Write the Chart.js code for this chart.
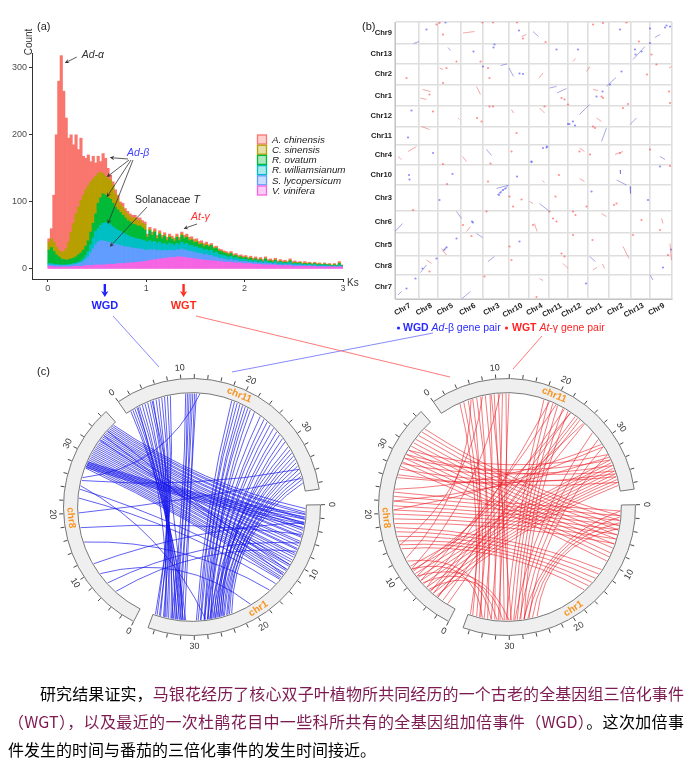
<!DOCTYPE html>
<html><head><meta charset="utf-8">
<script src="https://cdn.jsdelivr.net/npm/chart.js@4.4.1/dist/chart.umd.min.js"></script>
<style>
html,body{margin:0;padding:0;background:#fff;}
body{width:694px;height:774px;position:relative;overflow:hidden;}
canvas{position:absolute;display:block;}
#cA{left:0;top:0;} #cB{left:360px;top:0;} #cL{left:42px;top:357px;} #cR{left:357px;top:357px;}
#ov{position:absolute;left:0;top:0;pointer-events:none;}
#lblc{position:absolute;left:37px;top:365px;font:11px "Liberation Sans",Arial,sans-serif;color:#222;}
#txt{position:absolute;left:8px;top:679px;width:676px;font-family:"Noto Sans CJK SC",sans-serif;font-size:16px;line-height:28px;color:#000;}
#txt div{white-space:nowrap;}
#txt .j{text-align:justify;text-align-last:justify;}
#txt .ind{text-indent:32px;}
.p{color:#7d1a52;}
</style></head>
<body>
<canvas id="cA" width="360" height="320"></canvas>
<canvas id="cB" width="334" height="345"></canvas>
<canvas id="cL" width="300" height="300"></canvas>
<canvas id="cR" width="300" height="300"></canvas>
<svg id="ov" width="694" height="774">
  <line x1="113" y1="316" x2="159" y2="367" stroke="#7b7bff" stroke-width="0.9"/>
  <line x1="232" y1="372" x2="433" y2="333" stroke="#7b7bff" stroke-width="0.9"/>
  <line x1="196" y1="316" x2="450" y2="377" stroke="#ff6a6a" stroke-width="0.9"/>
  <line x1="542" y1="336" x2="513" y2="369" stroke="#ff6a6a" stroke-width="0.9"/>
</svg>
<div id="lblc">(c)</div>
<div id="txt">
  <div class="j ind">研究结果证实，<span class="p">马银花经历了核心双子叶植物所共同经历的一个古老的全基因组三倍化事件</span></div>
  <div class="j"><span class="p">（WGT），以及最近的一次杜鹃花目中一些科所共有的全基因组加倍事件（WGD）</span>。这次加倍事</div>
  <div>件发生的时间与番茄的三倍化事件的发生时间接近。</div>
</div>
<script>
// ================= DATA: panel (a) Ks distribution (bin width 0.025) =================
const ksBinCenters = Array.from({length:120}, (_, i) => +(0.0125 + 0.025 * i).toFixed(4));
const ksTicks = [0, 1, 2, 3];
const countTicks = [0, 100, 200, 300];
const speciesNames = ['V. vinifera','S. lycopersicum','R. williamsianum','R. ovatum','C. sinensis','A. chinensis'];
const speciesColors = ['#F564E3','#619CFF','#00BFC4','#00BA38','#B79F00','#F8766D'];
const vinifera = [4,4,3,3,3,3,3,3,3,3, 4,4,4,4,4,5,5,5,5,6, 6,6,6,6,7,7,7,7,8,8, 8,8,9,9,9,10,10,10,11,11,
  12,13,13,14,14,15,15,16,16,17, 17,17,18,18,18,17,17,16,16,15, 15,14,14,13,13,13,12,12,12,11, 11,10,10,10,10,9,9,9,9,8,
  8,8,8,7,7,7,7,6,6,6, 6,6,6,5,5,5,5,5,5,4, 4,4,4,4,4,4,4,3,4,3, 3,3,3,3,3,3,3,3,3,3];
const lycopersicum = [2,2,2,2,2,2,2,2,2,3, 2,3,4,5,7,9,13,19,25,30, 34,36,36,35,33,32,31,30,28,27, 26,25,24,23,22,21,20,20,18,17,
  16,16,15,15,13,13,12,12,11,11, 11,10,11,10,12,11,11,10,10,10, 9,9,9,8,9,7,8,6,6,5, 5,5,4,3,4,3,4,2,2,3,
  3,2,2,2,3,1,2,2,3,2, 2,1,2,1,2,1,2,1,2,1, 2,1,2,1,1,1,1,1,1,1, 1,1,1,1,1,0,1,0,1,0];
const williamsianum = [2,2,2,2,1,1,1,1,2,1, 2,2,2,3,4,6,8,12,16,20, 20,23,26,28,28,27,25,23,22,21, 20,19,17,16,16,15,15,14,14,14,
  12,13,12,12,11,12,10,10,9,10, 9,8,9,8,10,9,10,9,9,8, 9,8,8,7,7,7,8,6,7,6, 5,5,5,4,5,4,4,4,4,3,
  3,2,3,2,3,2,3,2,3,2, 2,2,3,2,3,2,2,2,3,2, 2,2,2,1,2,1,2,1,2,1, 2,1,2,1,1,1,1,1,2,1];
const ovatum = [20,24,19,14,12,9,8,7,7,8, 8,9,11,12,13,14,16,19,22,26, 38,41,44,41,38,38,35,32,30,28, 26,24,22,22,20,20,19,20,18,16,
  7,15,10,14,7,12,8,11,6,9, 7,6,9,6,10,8,9,7,8,6, 7,5,6,5,6,6,7,6,6,5, 5,4,4,4,4,3,3,2,3,2,
  3,2,3,2,2,2,2,1,3,1, 2,1,2,1,1,1,1,1,2,1, 1,1,1,1,1,1,1,1,1,1, 1,1,1,1,1,1,1,1,2,1];
const sinensis = [12,13,14,12,10,11,11,17,26,40, 52,64,71,78,82,84,82,75,66,56, 44,38,30,28,29,28,27,20,16,12, 12,10,10,8,9,10,8,8,7,8,
  2,2,2,2,2,2,2,2,2,2, 2,2,2,2,2,2,2,2,2,2, 2,2,2,2,2,1,1,1,1,1, 1,1,1,1,1,1,1,1,1,1,
  1,1,1,1,1,1,1,1,1,1, 1,1,1,1,1,1,1,1,1,1, 1,1,1,1,1,1,1,1,1,1, 1,0,1,0,1,0,1,0,1,0];
const chinensis = [5,15,70,167,252,292,240,195,155,145, 117,118,86,93,58,47,46,30,34,20, 26,16,30,27,15,8,5,6,6,4, 6,4,4,4,4,4,4,4,4,4,
  3,3,3,3,3,3,3,3,3,3, 3,3,3,3,3,3,3,3,3,3, 3,3,3,3,3,2,2,2,2,2, 2,2,2,2,2,2,2,2,2,2,
  2,2,2,2,2,2,2,2,2,2, 2,2,2,2,2,2,2,1,2,2, 2,1,1,1,2,1,1,1,1,1, 1,1,1,1,1,1,1,1,2,1];
const speciesSeries = [vinifera, lycopersicum, williamsianum, ovatum, sinensis, chinensis];

// ================= DATA: panel (b) dot plot (positions in Mb on concatenated genome) =================
const dotChroms = ['Chr7','Chr8','Chr5','Chr6','Chr3','Chr10','Chr4','Chr11','Chr12','Chr1','Chr2','Chr13','Chr9'];
const dotChromLen = [48,38,46,44,52,40,40,37,41,42,43,39,44];
const wgdBlocks = [[37,511,48,515],[106,503,111,497],[211,467,224,470],[228,462,237,445],[276,535,287,525],[309,422,323,425],
  [324,412,343,421],[470,349,483,362],[413,315,423,342],[530,285,540,279],[183,299,193,287],[369,369,389,389],[423,425,442,443],
  [476,479,500,505],[520,523,530,529],[51,53,63,68],[96,95,104,105],[0,135,15,151],[123,175,133,161],[163,131,175,123],
  [133,0,151,15],[203,221,228,228],[204,208,226,226],[289,191,309,175],[389,85,401,75],[443,238,463,228],[510,48,516,38],
  [450,258,451,250],[470,225,471,211],[6,8,13,15],[186,75,199,85]];
const wgdDots = [[63,539],[101,553],[157,495],[176,465],[199,509],[197,503],[249,451],[256,450],[248,537],[323,499],[366,499],
  [273,274],[303,303],[346,350],[356,355],[403,405],[415,415],[430,429],[453,455],[481,489],[493,495],[510,512],[540,543],
  [543,547],[550,545],[450,539],[510,541],[76,292],[26,323],[33,377],[296,302],[304,305],[349,350],[360,347],[480,499],
  [23,21],[41,41],[55,61],[83,81],[123,121],[89,198],[115,250],[154,155],[156,153],[208,208],[211,213],[216,218],[221,221],
  [244,245],[249,115],[273,275],[382,31],[506,198],[536,63],[552,99],[530,265],[28,248],[29,239],[99,99],[103,103],[393,215]];
const wgtBlocks = [[26,295,43,305],[53,345,69,339],[51,402,63,399],[55,419,71,415],[89,462,96,459],[136,532,159,535],
  [163,425,171,409],[253,525,263,529],[288,442,296,452],[289,382,299,372],[356,475,361,481],[369,302,379,295],[383,455,390,465],
  [396,419,406,417],[403,362,413,355],[440,289,456,295],[548,462,553,465],[6,285,13,279],[135,285,143,275],[233,379,237,372],
  [126,362,129,359],[279,151,284,135],[336,71,346,61],[396,58,404,63],[415,70,419,61],[413,171,423,165],[456,105,468,81],
  [550,111,553,78],[143,135,151,145],[93,101,103,88],[63,78,73,71],[289,41,296,37],[369,241,379,235],[533,161,536,151],
  [295,237,299,233],[269,195,276,191]];
const wgtDots = [[83,549],[89,552],[103,462],[96,432],[123,475],[164,362],[173,355],[175,553],[196,553],[171,475],[186,462],
  [189,442],[189,385],[196,385],[233,295],[243,332],[244,553],[256,521],[301,514],[299,385],[333,402],[339,399],[346,389],
  [396,549],[416,552],[413,405],[416,402],[396,345],[450,292],[456,382],[466,390],[463,553],[488,515],[513,489],[523,469],
  [504,449],[548,415],[550,392],[23,442],[69,409],[76,375],[510,299],[96,529],[400,342],[390,289],[369,295],
  [36,178],[104,230],[96,270],[186,235],[191,271],[236,185],[253,199],[309,175],[316,161],[323,155],[321,205],[356,175],
  [361,168],[383,185],[276,148],[229,105],[179,45],[233,78],[283,4],[333,91],[339,85],[356,128],[395,118],[443,191],
  [476,128],[493,158],[530,138],[546,88],[136,148],[69,55],[328,248],[183,175],[229,205],[438,188],[550,266],[153,126]];

// ================= DATA: panel (c) circos (positions in Mb) =================
const circosChroms = ['chr11','chr1','chr8'];
const circosLen = [39, 37, 37];
const circosGap = 2.333;
const circosTickLabels = [0, 10, 20, 30];
const wgdLinks = [
  ['chr8',36.4,'chr1',0.6],['chr8',36.1,'chr1',1.2],['chr8',35.8,'chr1',1.5],['chr8',35.5,'chr1',2.2],['chr8',35.2,'chr1',2.4],
  ['chr8',34.9,'chr1',3.1],['chr8',34.6,'chr1',3.3],['chr8',34.3,'chr1',4.0],['chr8',34.0,'chr1',4.3],['chr8',33.7,'chr1',4.8],
  ['chr8',33.4,'chr1',5.3],['chr8',33.1,'chr1',5.5],['chr8',32.8,'chr1',6.2],['chr8',32.5,'chr1',6.5],['chr8',32.2,'chr1',7.0],
  ['chr8',31.9,'chr1',7.5],['chr8',31.6,'chr1',7.7],['chr8',31.3,'chr1',8.4],['chr8',31.0,'chr1',8.7],['chr8',30.7,'chr1',9.1],
  ['chr8',30.4,'chr1',9.6],['chr8',30.1,'chr1',10.0],['chr8',29.8,'chr1',10.5],['chr8',29.5,'chr1',10.8],['chr8',29.2,'chr1',11.4],
  ['chr8',28.9,'chr1',11.7],['chr8',28.6,'chr1',12.2],['chr8',28.3,'chr1',12.6],['chr8',28.0,'chr1',13.0],['chr8',27.7,'chr1',13.3],
  ['chr8',28.8,'chr1',1.6],['chr8',28.6,'chr1',2.0],['chr8',28.4,'chr1',2.4],['chr8',28.2,'chr1',2.9],['chr8',28.0,'chr1',3.3],
  ['chr8',27.8,'chr1',3.8],['chr8',35.0,'chr1',11.5],['chr8',34.0,'chr1',12.5],['chr8',33.0,'chr1',10.5],
  ['chr11',0.8,'chr1',31.4],['chr11',1.2,'chr1',32.2],['chr11',1.6,'chr1',31.8],['chr11',2.0,'chr1',32.9],['chr11',2.5,'chr1',32.5],
  ['chr11',3.0,'chr1',33.6],['chr11',3.5,'chr1',33.2],['chr11',4.0,'chr1',34.3],['chr11',4.5,'chr1',33.9],['chr11',5.0,'chr1',35.0],
  ['chr11',5.5,'chr1',34.6],['chr11',6.0,'chr1',35.7],['chr11',6.5,'chr1',35.2],['chr11',7.0,'chr1',36.3],['chr11',7.5,'chr1',35.9],
  ['chr11',8.0,'chr1',36.6],['chr11',2.2,'chr1',34.8],['chr11',4.8,'chr1',31.9],
  ['chr11',10.6,'chr1',33.8],['chr11',10.9,'chr1',33.1],['chr11',11.2,'chr1',33.5],['chr11',11.5,'chr1',32.4],['chr11',11.8,'chr1',32.8],
  ['chr11',12.1,'chr1',31.6],['chr11',12.4,'chr1',32.1],
  ['chr11',18.5,'chr1',29.6],['chr11',19.0,'chr1',28.9],['chr11',19.5,'chr1',29.3],['chr11',20.0,'chr1',28.3],['chr11',20.5,'chr1',28.8],
  ['chr11',21.0,'chr1',27.7],['chr11',21.5,'chr1',28.2],['chr11',22.0,'chr1',27.1],['chr11',22.8,'chr1',27.6],
  ['chr11',24.0,'chr1',28.2],['chr11',24.8,'chr1',27.3],['chr11',25.5,'chr1',27.7],['chr11',26.2,'chr1',26.6],['chr11',27.0,'chr1',27.0],
  ['chr11',27.8,'chr1',25.9],['chr11',28.5,'chr1',26.3],['chr11',29.3,'chr1',25.2],['chr11',30.0,'chr1',25.6],
  ['chr11',31.0,'chr1',27.3],['chr11',31.6,'chr1',26.4],['chr11',32.2,'chr1',26.8],['chr11',32.8,'chr1',25.7],['chr11',33.4,'chr1',26.1],
  ['chr11',34.0,'chr1',25.0],['chr11',34.6,'chr1',25.4],['chr11',35.2,'chr1',24.4],['chr11',35.8,'chr1',24.8],['chr11',36.4,'chr1',23.9],
  ['chr11',37.0,'chr1',24.2],['chr11',37.6,'chr1',23.5],
  ['chr8',25.5,'chr11',35.2],['chr8',20.0,'chr11',36.8],['chr8',17.5,'chr1',5.0],['chr8',11.0,'chr1',3.0],['chr8',7.0,'chr1',6.5],
  ['chr8',5.0,'chr1',8.0],['chr8',24.0,'chr1',13.5],['chr8',22.5,'chr1',14.5],['chr8',24.6,'chr1',28.0],['chr8',15.0,'chr1',16.0],
  ['chr8',9.0,'chr1',20.0],['chr8',26.0,'chr11',13.0]];
const wgtLinks = [
  ['chr11',3.5,'chr1',36.2],['chr11',4.2,'chr1',35.5],['chr11',5.0,'chr1',34.8],['chr11',5.8,'chr1',36.6],['chr11',6.5,'chr1',33.6],
  ['chr11',7.2,'chr1',35.0],['chr11',8.0,'chr1',32.4],['chr11',8.8,'chr1',34.2],['chr11',9.5,'chr1',31.5],['chr11',10.2,'chr1',30.8],
  ['chr11',10.9,'chr1',33.0],['chr11',11.5,'chr1',30.2],['chr11',12.0,'chr1',31.8],['chr11',9.0,'chr1',29.6],
  ['chr11',18.0,'chr1',30.5],['chr11',18.8,'chr1',29.8],['chr11',19.6,'chr1',29.2],['chr11',20.5,'chr1',28.6],['chr11',21.5,'chr1',28.0],
  ['chr11',22.5,'chr1',27.4],
  ['chr11',19.0,'chr8',6.0],['chr11',20.2,'chr8',7.5],['chr11',21.8,'chr8',5.0],['chr11',23.0,'chr8',8.5],['chr11',24.5,'chr8',3.5],
  ['chr11',25.8,'chr8',9.5],
  ['chr11',33.5,'chr8',10.5],['chr11',34.0,'chr8',9.8],['chr11',34.5,'chr8',9.0],['chr11',35.0,'chr8',8.2],['chr11',35.5,'chr8',7.5],
  ['chr11',36.0,'chr8',6.8],['chr11',36.5,'chr8',6.0],['chr11',37.0,'chr8',5.2],['chr11',37.5,'chr8',4.5],['chr11',38.0,'chr8',3.8],
  ['chr11',32.5,'chr8',31.0],['chr11',33.5,'chr8',29.5],['chr11',34.5,'chr8',28.5],['chr11',35.5,'chr8',30.2],['chr11',36.5,'chr8',27.5],
  ['chr11',37.5,'chr8',26.5],
  ['chr8',35.5,'chr1',1.8],['chr8',34.8,'chr1',2.6],['chr8',34.0,'chr1',3.5],['chr8',33.2,'chr1',4.2],['chr8',32.5,'chr1',5.1],
  ['chr8',31.8,'chr1',5.8],['chr8',31.0,'chr1',6.7],['chr8',30.2,'chr1',7.4],['chr8',29.5,'chr1',8.3],['chr8',28.8,'chr1',9.0],
  ['chr8',28.0,'chr1',9.8],
  ['chr8',23.5,'chr1',1.0],['chr8',22.8,'chr1',1.8],['chr8',22.0,'chr1',2.6],['chr8',21.2,'chr1',3.4],['chr8',20.5,'chr1',4.2],
  ['chr8',19.8,'chr1',5.0],['chr8',19.0,'chr1',5.8],['chr8',18.2,'chr1',6.6],
  ['chr8',17.5,'chr1',11.5],['chr8',16.8,'chr1',12.4],['chr8',16.0,'chr1',13.3],['chr8',15.2,'chr1',14.2],['chr8',14.5,'chr1',15.0],
  ['chr8',13.8,'chr1',16.0],
  ['chr1',1.0,'chr1',27.5],['chr1',2.0,'chr1',26.8],['chr1',3.0,'chr1',26.0],['chr1',4.0,'chr1',25.2],
  ['chr11',28.0,'chr1',29.0],['chr11',29.5,'chr1',28.2],['chr11',31.0,'chr1',27.4],['chr11',32.5,'chr1',26.6],
  ['chr8',5.5,'chr1',31.0],['chr8',7.0,'chr1',33.0],['chr8',8.5,'chr1',30.0],['chr8',10.0,'chr1',34.5],['chr8',11.5,'chr1',32.0],
  ['chr8',20.5,'chr11',31.0],['chr8',22.0,'chr11',33.0],['chr8',24.0,'chr11',30.5],['chr8',26.0,'chr11',36.0],
  ['chr11',5.5,'chr8',12.0],['chr11',7.5,'chr8',14.5],['chr11',10.5,'chr8',10.0],
  ['chr8',1.5,'chr11',26.0],['chr8',2.5,'chr11',25.0],['chr8',3.5,'chr11',24.0],['chr8',4.5,'chr11',23.0]];

// ================= helpers =================
const FONT = '"Liberation Sans", Arial, sans-serif';
function arrow(ctx, x1, y1, x2, y2, color, lw, hl, spread) {
  ctx.save(); ctx.strokeStyle = color; ctx.fillStyle = color; ctx.lineWidth = lw;
  const a = Math.atan2(y2 - y1, x2 - x1);
  ctx.beginPath(); ctx.moveTo(x1, y1); ctx.lineTo(x2 - Math.cos(a) * hl * 0.6, y2 - Math.sin(a) * hl * 0.6); ctx.stroke();
  ctx.beginPath(); ctx.moveTo(x2, y2);
  ctx.lineTo(x2 - hl * Math.cos(a - spread), y2 - hl * Math.sin(a - spread));
  ctx.lineTo(x2 - hl * 0.6 * Math.cos(a), y2 - hl * 0.6 * Math.sin(a));
  ctx.lineTo(x2 - hl * Math.cos(a + spread), y2 - hl * Math.sin(a + spread));
  ctx.closePath(); ctx.fill(); ctx.restore();
}
function runs(ctx, x, y, parts) {
  parts.forEach(([t, f, c]) => { ctx.font = f; ctx.fillStyle = c; ctx.fillText(t, x, y); x += ctx.measureText(t).width; });
  return x;
}
const cumStart = []; dotChromLen.reduce((s, v, i) => { cumStart[i] = s; return s + v; }, 0);
const genomeTotal = dotChromLen.reduce((a, b) => a + b, 0);
const boundaries = cumStart.concat([genomeTotal]);

// ================= panel (a) =================
const aPlugin = {
  id: 'aAnn',
  afterDraw(chart) {
    const { ctx, scales: { x, y } } = chart;
    const P = (k, c) => [x.getPixelForValue(k), y.getPixelForValue(c)];
    ctx.save();
    ctx.textBaseline = 'middle';
    ctx.fillStyle = '#222'; ctx.font = '11px ' + FONT; ctx.textAlign = 'left';
    ctx.fillText('(a)', 37, 27);
    ctx.save(); ctx.translate(29, 42); ctx.rotate(-Math.PI / 2); ctx.textAlign = 'center';
    ctx.font = '10px ' + FONT; ctx.fillStyle = '#333'; ctx.fillText('Count', 0, 0); ctx.restore();
    ctx.font = '10px ' + FONT; ctx.fillStyle = '#333'; ctx.fillText('Ks', 347, 283);
    const ac = '#333';
    let t = P(0.173, 307); arrow(ctx, t[0] + 12, t[1] - 6, t[0], t[1], ac, 0.8, 5, 0.45);
    ctx.font = 'italic 10.5px ' + FONT; ctx.fillStyle = '#333'; ctx.fillText('Ad-α', t[0] + 17, t[1] - 8);
    const bt = [[0.63, 166, 128, 159], [0.60, 137, 129, 160], [0.60, 107, 131, 160], [0.61, 67, 133, 160]];
    bt.forEach(([k, c, tx, ty]) => { const p = P(k, c); arrow(ctx, tx, ty, p[0], p[1], ac, 0.8, 5, 0.45); });
    ctx.fillStyle = '#4040ff'; ctx.fillText('Ad-β', 127, 153);
    t = P(0.63, 33); arrow(ctx, 147, 207, t[0], t[1], ac, 0.8, 5, 0.45);
    runs(ctx, 135, 200, [['Solanaceae ', '10.5px ' + FONT, '#222'], ['T', 'italic 10.5px ' + FONT, '#222']]);
    t = P(1.38, 60); arrow(ctx, 197, 224, t[0], t[1], ac, 0.8, 5, 0.45);
    ctx.font = 'italic 10.5px ' + FONT; ctx.fillStyle = '#ff3030'; ctx.fillText('At-γ', 191, 217);
    for (let i = 0; i < 6; i++) {
      const di = 5 - i; const yy = 135 + i * 10.2;
      const ds = chart.data.datasets[di];
      ctx.fillStyle = ds.backgroundColor + '55'; ctx.fillRect(257.5, yy, 9, 9);
      ctx.strokeStyle = ds.backgroundColor; ctx.lineWidth = 1.3; ctx.strokeRect(257.5, yy, 9, 9);
      ctx.font = 'italic 9.8px ' + FONT; ctx.fillStyle = '#222'; ctx.fillText(ds.label, 272, yy + 5);
    }
    const marks = [[0.58, 'WGD', '#1f1fff'], [1.38, 'WGT', '#ff2a1a']];
    marks.forEach(([k, lab, col]) => {
      const px = x.getPixelForValue(k);
      arrow(ctx, px, 284, px, 297, col, 2.4, 7, 0.55);
      ctx.font = 'bold 11px ' + FONT; ctx.fillStyle = col; ctx.textAlign = 'center'; ctx.fillText(lab, px, 306);
      ctx.textAlign = 'left';
    });
    ctx.restore();
  }
};
new Chart(document.getElementById('cA'), {
  type: 'bar',
  data: {
    datasets: speciesNames.map((name, i) => ({
      label: name,
      data: speciesSeries[i].map((v, k) => ({ x: ksBinCenters[k], y: v })),
      backgroundColor: speciesColors[i],
      borderWidth: 0, barPercentage: 1, categoryPercentage: 1
    }))
  },
  options: {
    responsive: false, animation: false, events: [],
    layout: { padding: { left: 0, top: 53, right: 17, bottom: 19 } },
    plugins: { legend: { display: false }, tooltip: { enabled: false } },
    scales: {
      x: {
        type: 'linear', stacked: true, min: -0.16, max: 3, offset: false,
        afterBuildTicks: s => { s.ticks = ksTicks.map(v => ({ value: v })); },
        afterFit: s => { s.height = 22; },
        grid: { display: true, drawOnChartArea: false, offset: false, tickLength: 3, color: '#333' },
        border: { display: true, color: '#333', width: 1 },
        ticks: { font: { size: 9, family: 'Liberation Sans' }, color: '#4d4d4d', padding: 1, maxRotation: 0, callback: v => String(v) }
      },
      y: {
        stacked: true, min: -15, max: 322,
        afterBuildTicks: s => { s.ticks = countTicks.map(v => ({ value: v })); },
        afterFit: s => { s.width = 32; },
        grid: { display: true, drawOnChartArea: false, tickLength: 3, color: '#333' },
        border: { display: true, color: '#333', width: 1 },
        ticks: { font: { size: 9, family: 'Liberation Sans' }, color: '#4d4d4d', padding: 2, callback: v => String(v) }
      }
    }
  },
  plugins: [aPlugin]
});

// ================= panel (b) =================
const bPlugin = {
  id: 'bAnn',
  afterDraw(chart) {
    const { ctx, scales: { x, y } } = chart;
    ctx.save();
    ctx.textBaseline = 'middle';
    ctx.font = '11px ' + FONT; ctx.fillStyle = '#222'; ctx.textAlign = 'left'; ctx.fillText('(b)', 2, 27);
    ctx.font = 'bold 7.6px ' + FONT; ctx.fillStyle = '#222';
    dotChroms.forEach((c, i) => {
      const mid = cumStart[i] + dotChromLen[i] / 2;
      ctx.textAlign = 'right'; ctx.fillText(c, x.left - 3, y.getPixelForValue(mid));
      ctx.save(); ctx.translate(x.getPixelForValue(mid) + 3, y.bottom + 6); ctx.rotate(-0.52);
      ctx.fillText(c, 0, 0); ctx.restore();
    });
    ctx.textAlign = 'left';
    const blue = '#2a2aff', red = '#ff2424';
    ctx.fillStyle = blue; ctx.beginPath(); ctx.arc(38.5, 328, 1.6, 0, Math.PI * 2); ctx.fill();
    runs(ctx, 43, 328, [['WGD ', 'bold 10.5px ' + FONT, blue], ['Ad', 'italic 10.5px ' + FONT, blue], ['-β gene pair', '10.5px ' + FONT, blue]]);
    ctx.fillStyle = red; ctx.beginPath(); ctx.arc(146.5, 328, 1.6, 0, Math.PI * 2); ctx.fill();
    runs(ctx, 152, 328, [['WGT ', 'bold 10.5px ' + FONT, red], ['At', 'italic 10.5px ' + FONT, red], ['-γ gene pair', '10.5px ' + FONT, red]]);
    ctx.restore();
  }
};
const segSets = [];
wgdBlocks.forEach(s => segSets.push({ data: [{ x: s[0], y: s[1] }, { x: s[2], y: s[3] }], showLine: true, pointRadius: 0, borderWidth: 1.0, borderColor: 'rgba(110,110,215,0.6)' }));
wgtBlocks.forEach(s => segSets.push({ data: [{ x: s[0], y: s[1] }, { x: s[2], y: s[3] }], showLine: true, pointRadius: 0, borderWidth: 1.0, borderColor: 'rgba(235,110,110,0.6)' }));
new Chart(document.getElementById('cB'), {
  type: 'scatter',
  data: {
    datasets: segSets.concat([
      { data: wgdDots.map(([a, b]) => ({ x: a, y: b })), pointRadius: 1.1, borderWidth: 0, backgroundColor: 'rgba(70,70,255,0.6)' },
      { data: wgtDots.map(([a, b]) => ({ x: a, y: b })), pointRadius: 1.1, borderWidth: 0, backgroundColor: 'rgba(255,70,70,0.6)' }
    ])
  },
  options: {
    responsive: false, animation: false, events: [],
    layout: { padding: { left: 35, top: 22, right: 22, bottom: 46 } },
    plugins: { legend: { display: false }, tooltip: { enabled: false } },
    scales: {
      x: {
        type: 'linear', min: 0, max: genomeTotal,
        afterBuildTicks: s => { s.ticks = boundaries.map(v => ({ value: v })); },
        afterFit: s => { s.height = 0; },
        ticks: { display: false }, grid: { color: '#dedede', lineWidth: 1.6, drawTicks: false },
        border: { display: true, color: '#c4c4c4', width: 1 }
      },
      y: {
        type: 'linear', min: 0, max: genomeTotal,
        afterBuildTicks: s => { s.ticks = boundaries.map(v => ({ value: v })); },
        afterFit: s => { s.width = 0; },
        ticks: { display: false }, grid: { color: '#dedede', lineWidth: 1.6, drawTicks: false },
        border: { display: true, color: '#c4c4c4', width: 1 }
      }
    }
  },
  plugins: [bPlugin]
});

// ================= panel (c) circos =================
function tangentText(ctx, text, cx, cy, r, a, font, color) {
  const px = cx + r * Math.cos(a), py = cy + r * Math.sin(a);
  let th = a + Math.PI / 2; th = ((th % (2 * Math.PI)) + 2 * Math.PI) % (2 * Math.PI);
  if (th > Math.PI / 2 + 1e-6 && th < 3 * Math.PI / 2 - 1e-6) th -= Math.PI;
  ctx.save(); ctx.translate(px, py); ctx.rotate(th); ctx.font = font; ctx.fillStyle = color;
  ctx.textAlign = 'center'; ctx.textBaseline = 'middle'; ctx.fillText(text, 0, 0); ctx.restore();
}
const LINK_PULL = 0.55;
function circosPlugin(links, rgba) {
  return {
    id: 'circos',
    afterDatasetsDraw(chart) {
      const ctx = chart.ctx;
      const arcs = chart.getDatasetMeta(0).data;
      const geo = {};
      circosChroms.forEach((name, j) => {
        geo[name] = Object.assign({ len: circosLen[j] },
          arcs[2 * j].getProps(['x', 'y', 'startAngle', 'endAngle', 'innerRadius', 'outerRadius'], true));
      });
      const ang = (c, p) => { const g = geo[c]; return g.startAngle + p / g.len * (g.endAngle - g.startAngle); };
      const g0 = geo[circosChroms[0]];
      const cx = g0.x, cy = g0.y, rin = g0.innerRadius, rout = g0.outerRadius;
      ctx.save();
      ctx.lineWidth = 1.0; ctx.strokeStyle = rgba;
      links.forEach(([c1, p1, c2, p2]) => {
        const a1 = ang(c1, p1), a2 = ang(c2, p2), r = rin - 1;
        const x1 = cx + r * Math.cos(a1), y1 = cy + r * Math.sin(a1);
        const x2 = cx + r * Math.cos(a2), y2 = cy + r * Math.sin(a2);
        const qx = cx + ((x1 + x2) / 2 - cx) * LINK_PULL, qy = cy + ((y1 + y2) / 2 - cy) * LINK_PULL;
        ctx.beginPath(); ctx.moveTo(x1, y1); ctx.quadraticCurveTo(qx, qy, x2, y2); ctx.stroke();
      });
      ctx.strokeStyle = '#333'; ctx.lineWidth = 0.9;
      circosChroms.forEach((name, j) => {
        const len = circosLen[j];
        for (let p = 0; p <= len; p += 2) {
          const a = ang(name, p);
          ctx.beginPath(); ctx.moveTo(cx + (rout + 0.5) * Math.cos(a), cy + (rout + 0.5) * Math.sin(a));
          ctx.lineTo(cx + (rout + 4.5) * Math.cos(a), cy + (rout + 4.5) * Math.sin(a)); ctx.stroke();
        }
        circosTickLabels.forEach(v => { if (v <= len) tangentText(ctx, String(v), cx, cy, rout + 11, ang(name, v), '9px ' + FONT, '#333'); });
        tangentText(ctx, name, cx, cy, (rin + rout) / 2, ang(name, 19.3), 'bold 10px ' + FONT, '#f7931e');
      });
      ctx.restore();
    }
  };
}
function makeCircos(id, links, rgba) {
  const data = [], bg = [], bc = [], bw = [];
  circosLen.forEach(l => { data.push(l, circosGap); bg.push('#efefef', 'rgba(0,0,0,0)'); bc.push('#777', 'rgba(0,0,0,0)'); bw.push(1, 0); });
  new Chart(document.getElementById(id), {
    type: 'doughnut',
    data: { labels: data.map((_, i) => String(i)), datasets: [{ data, backgroundColor: bg, borderColor: bc, borderWidth: bw, hoverOffset: 0 }] },
    options: {
      responsive: false, animation: false, events: [],
      rotation: -35, circumference: 360, cutout: '89%',
      layout: { padding: 21 },
      plugins: { legend: { display: false }, tooltip: { enabled: false } }
    },
    plugins: [circosPlugin(links, rgba)]
  });
}
makeCircos('cL', wgdLinks, 'rgba(20,20,235,0.68)');
makeCircos('cR', wgtLinks, 'rgba(235,25,35,0.58)');
</script>
</body></html>
